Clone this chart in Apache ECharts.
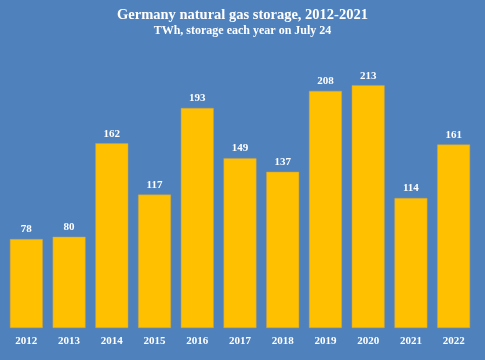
<!DOCTYPE html>
<html>
<head>
<meta charset="utf-8">
<script src="https://cdn.jsdelivr.net/npm/echarts@6/dist/echarts.min.js"></script>
<style>
html,body{margin:0;padding:0;background:#4F81BD;}
#chart{width:485px;height:360px;}
</style>
</head>
<body>
<div id="chart"></div>
<script>
const categories = ['2012','2013','2014','2015','2016','2017','2018','2019','2020','2021','2022'];
const storageTWh = [78, 80, 162, 117, 193, 149, 137, 208, 213, 114, 161];

const chart = echarts.init(document.getElementById('chart'), null, {renderer:'canvas'});
const font = '"Liberation Serif", "DejaVu Serif", serif';
chart.setOption({
  backgroundColor: '#4F81BD',
  animation: false,
  title: [{
    text: 'Germany natural gas storage, 2012-2021',
    left: 'center', top: 3,
    textStyle: {color:'#fff', fontFamily: font, fontSize: 14.5, fontWeight: 'bold'}
  },{
    text: 'TWh, storage each year on July 24',
    left: 'center', top: 20,
    textStyle: {color:'#fff', fontFamily: font, fontSize: 12, fontWeight: 'bold'}
  }],
  grid: {left: 5, right: 10, top: 43, bottom: 32, containLabel: false},
  xAxis: {
    type: 'category', data: categories,
    axisLine: {show:false}, axisTick: {show:false},
    axisLabel: {color:'#fff', fontFamily: font, fontSize: 11, fontWeight:'bold', margin: 8}
  },
  yAxis: {
    type: 'value', min: 0, max: 250, show: false, splitLine: {show:false}
  },
  series: [{
    type: 'bar', data: storageTWh, barCategoryGap: '23%',
    itemStyle: {color:'#FFC000', borderColor:'#C9A04A', borderWidth: 0.5},
    label: {show:true, position:'top', distance: 4, color:'#fff', fontFamily: font, fontSize: 11, fontWeight:'bold'}
  }]
});
</script>
</body>
</html>
